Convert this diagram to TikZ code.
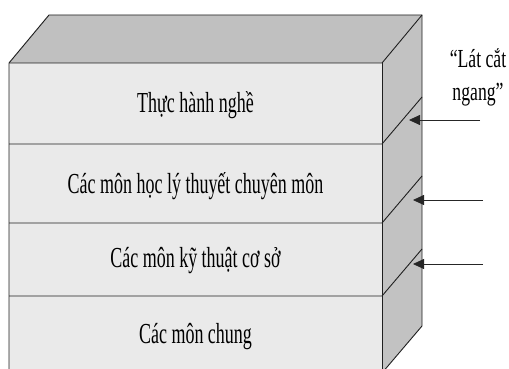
\documentclass[tikz,border=0pt]{standalone}
\usepackage{fontspec}
\setmainfont{Liberation Serif}
\usetikzlibrary{arrows.meta}
\definecolor{topgray}{HTML}{C0C0C0}
\definecolor{sidegray}{HTML}{C2C2C2}
\definecolor{frontgray}{HTML}{EAEAEA}
\newcommand\sqzA[1]{\scalebox{0.62}[1]{#1}}
\newcommand\sqzB[1]{\scalebox{0.68}[1]{#1}}
\begin{document}
\begin{tikzpicture}[x=1pt,y=-1pt,
  edge/.style={draw=black!88, line width=0.9pt, line join=miter},
  layertext/.style={anchor=base, inner sep=0pt, font=\fontsize{29}{34}\selectfont},
  sidetext/.style={anchor=base, inner sep=0pt, font=\fontsize{26}{30}\selectfont},
  pointer/.style={draw=black!85, line width=0.8pt, -{Triangle[length=11pt,width=10pt]}}]
\useasboundingbox (0,0) rectangle (509,369);
% faces
\fill[topgray] (49,15) -- (422,15) -- (382,63) -- (9,63) -- cycle;
\fill[sidegray] (382,63) -- (422,15) -- (422,326) -- (382,373) -- cycle;
\fill[frontgray] (9,63) rectangle (382,373);
% outline
\draw[edge] (9,373) -- (9,63) -- (49,15) -- (422,15) -- (422,326) -- (382,373);
\draw[edge] (9,63) -- (382,63) -- (422,15);
\draw[edge] (382,63) -- (382,373);
\draw[edge] (9,373) -- (382,373);
% layer dividers
\foreach \yy in {144,223,296}{
  \draw[edge] (9,\yy) -- (382,\yy) -- (422,\yy-47);
}
% texts
\node[layertext] (l1) at (195.5,113) {\sqzA{Thực hành nghề}};
\node[layertext] (l2) at (195.5,193) {\sqzA{Các môn học lý thuyết chuyên môn}};
\node[layertext] (l3) at (195.5,267) {\sqzA{Các môn kỹ thuật cơ sở}};
\node[layertext] (l4) at (195.5,343) {\sqzA{Các môn chung}};
\node[sidetext] (lab1) at (478,67) {\sqzB{“Lát cắt}};
\node[sidetext] (lab2) at (478,100) {\sqzB{ngang”}};
% pointers
\coordinate (s1) at (480,120);
\coordinate (t1) at (409,120);
\coordinate (s2) at (483,200);
\coordinate (t2) at (413,200);
\coordinate (s3) at (483,264);
\coordinate (t3) at (413,264);
\draw[pointer] (s1) -- (t1);
\draw[pointer] (s2) -- (t2);
\draw[pointer] (s3) -- (t3);
\end{tikzpicture}
\end{document}
